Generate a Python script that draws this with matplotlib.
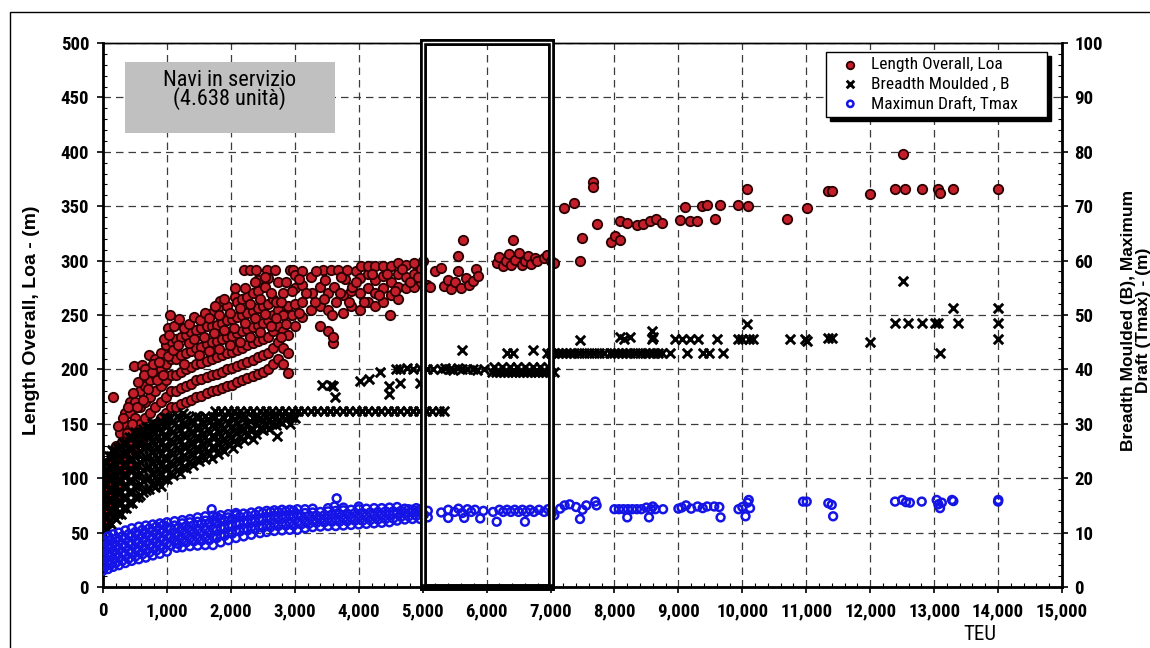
import matplotlib
matplotlib.use("Agg")
import matplotlib.pyplot as plt
from matplotlib.patches import Rectangle
from matplotlib.ticker import MultipleLocator
import numpy as np

NARROW = ["Liberation Sans Narrow", "Roboto Condensed", "Open Sans Condensed",
          "Liberation Sans", "DejaVu Sans"]
plt.rcParams["font.family"] = NARROW

# ---- data: (TEU, metres) ----
loa_cloud = [
    (0, 52), (0, 65), (0, 80), (0, 95),
    (60, 60), (60, 75), (60, 90), (60, 105),
    (120, 70), (120, 85), (120, 100), (120, 115), (160, 175),
    (200, 85), (200, 100), (200, 115), (200, 130),
    (270, 95), (270, 110), (270, 125), (270, 142),
    (340, 105), (340, 120), (340, 135), (340, 150), (340, 160),
    (420, 115), (420, 130), (420, 145), (420, 160), (420, 170),
    (500, 125), (500, 140), (500, 155), (500, 170), (490, 203),
    (580, 135), (580, 150), (580, 165), (580, 180), (610, 204),
    (660, 140), (660, 155), (660, 170), (660, 185), (660, 200),
    (740, 145), (740, 160), (740, 175), (740, 190), (720, 213),
    (820, 150), (820, 165), (820, 180), (820, 195), (820, 210),
    (900, 155), (900, 170), (900, 185), (900, 200), (900, 215),
    (980, 160), (980, 175), (980, 190), (980, 205), (980, 222), (1021, 238), (1048, 250),
    (1060, 165), (1060, 180), (1060, 195), (1060, 210), (1080, 225),
    (1140, 165), (1140, 180), (1140, 195), (1140, 210), (1140, 228),
    (1220, 168), (1220, 183), (1220, 198), (1220, 213), (1220, 230),
    (1300, 170), (1300, 185), (1300, 200), (1300, 215), (1300, 232),
    (1380, 172), (1380, 187), (1380, 202), (1380, 217), (1380, 234),
    (1460, 175), (1460, 190), (1460, 205), (1460, 220), (1460, 236),
    (1540, 176), (1540, 191), (1540, 206), (1540, 221), (1540, 238),
    (1620, 178), (1620, 193), (1620, 208), (1620, 223), (1620, 240),
    (1700, 180), (1700, 195), (1700, 210), (1700, 225), (1700, 240), (1700, 252),
    (1780, 181), (1780, 196), (1780, 211), (1780, 226), (1780, 241), (1800, 256),
    (1860, 183), (1860, 198), (1860, 213), (1860, 228), (1860, 243), (1830, 263),
    (1940, 185), (1940, 200), (1940, 215), (1940, 230), (1940, 245), (1940, 258),
    (2020, 186), (2020, 201), (2020, 216), (2020, 231), (2020, 246), (2065, 267),
    (2100, 188), (2100, 203), (2100, 218), (2100, 233), (2100, 248), (2100, 262),
    (2180, 190), (2180, 205), (2180, 220), (2180, 235), (2180, 250), (2180, 265), (2200, 291),
    (2260, 192), (2260, 207), (2260, 222), (2260, 237), (2260, 252), (2260, 267), (2300, 291),
    (2340, 194), (2340, 209), (2340, 224), (2340, 239), (2340, 254), (2340, 270), (2400, 291),
    (2420, 196), (2420, 211), (2420, 226), (2420, 241), (2420, 256), (2420, 272), (2420, 282),
    (2500, 198), (2500, 213), (2500, 228), (2500, 243), (2500, 258), (2530, 276), (2560, 291),
    (2580, 200), (2580, 215), (2580, 230), (2580, 245), (2580, 260), (2580, 284),
    (2660, 205), (2660, 220), (2660, 235), (2660, 250), (2660, 265), (2690, 291),
    (2740, 210), (2740, 225), (2740, 240), (2740, 255), (2740, 280),
    (2820, 205), (2820, 220), (2820, 235), (2820, 250), (2820, 270),
    (2900, 197), (2900, 215), (2900, 232), (2900, 258), (2930, 291), (2970, 291),
    (3000, 240), (3000, 260), (3000, 275), (3000, 287),
    (3120, 248), (3120, 262), (3120, 278), (3120, 290),
    (3264, 270), (3250, 255), (3250, 285),
    (3400, 240), (3400, 258), (3440, 291), (3400, 276),
    (3520, 235), (3520, 255), (3520, 270), (3560, 291),
    (3600, 224), (3600, 230), (3620, 276), (3680, 291), (3650, 262),
    (3760, 252), (3760, 268), (3780, 283), (3820, 291),
    (3880, 258), (3880, 272), (3900, 276), (3950, 290),
    (4020, 255), (4020, 270), (4020, 284), (4040, 295),
    (4140, 262), (4140, 275), (4140, 288), (4140, 295),
    (4260, 258), (4260, 270), (4260, 282), (4260, 295),
    (4380, 262), (4380, 275), (4380, 286), (4380, 295),
    (4495, 250), (4500, 268), (4500, 280), (4500, 295),
    (4620, 265), (4620, 276), (4620, 288), (4620, 298),
    (4740, 275), (4740, 285), (4740, 296),
    (4860, 276), (4860, 288), (4860, 298),
    (4980, 280), (4980, 292), (5000, 300),
]

loa_fill = [
    (30, 72), (90, 95), (150, 110), (180, 128), (230, 122), (240, 148), (300, 133),
    (310, 155), (380, 142), (390, 165), (460, 150), (470, 178), (530, 165), (550, 188),
    (620, 172), (640, 195), (700, 182), (760, 198), (780, 205), (850, 190), (870, 207),
    (940, 195), (950, 228), (1010, 212), (1030, 232), (1100, 218), (1110, 240),
    (1180, 222), (1190, 246), (1260, 238), (1270, 205), (1340, 224), (1350, 242),
    (1420, 228), (1430, 248), (1500, 213), (1510, 245), (1580, 230), (1590, 252),
    (1660, 217), (1660, 247), (1740, 233), (1750, 258), (1820, 219), (1820, 250),
    (1900, 236), (1900, 265), (1980, 222), (1980, 252), (2050, 238), (2060, 275),
    (2140, 225), (2140, 256), (2220, 243), (2220, 275), (2300, 230), (2300, 260),
    (2380, 247), (2380, 280), (2460, 234), (2460, 265), (2540, 251), (2540, 285),
    (2620, 240), (2620, 270), (2700, 247), (2700, 262), (2780, 230), (2780, 262),
    (2860, 242), (2860, 280), (2950, 250), (2960, 272), (3060, 252), (3060, 283),
    (3180, 270), (3320, 262), (3330, 290), (3460, 265), (3480, 282), (3580, 250),
    (3700, 270), (3720, 285), (3840, 262), (3960, 280), (4080, 262), (4200, 288),
    (4320, 268), (4440, 288), (4560, 272), (4680, 292), (4800, 280), (4920, 285),
]

loa_large = [
    (5060, 278), (5115, 276), (5200, 290), (5286, 293), (5330, 277), (5400, 282),
    (5450, 274), (5500, 280), (5553, 304), (5560, 290), (5600, 275), (5636, 319),
    (5680, 284), (5730, 278), (5780, 281), (5830, 292), (5860, 286),
    (6158, 298), (6200, 303), (6250, 295), (6300, 300), (6350, 306), (6380, 296),
    (6418, 319), (6450, 301), (6500, 307), (6550, 296), (6600, 300), (6650, 304),
    (6700, 297), (6750, 302), (6784, 300), (6900, 302), (6950, 305), (7000, 300), (7050, 298),
    (7216, 348), (7368, 353), (7461, 300), (7498, 321), (7660, 372), (7660, 368),
    (7732, 334), (7941, 317), (8010, 323), (8087, 319), (8087, 336), (8200, 335),
    (8350, 333), (8450, 334), (8550, 336), (8650, 338), (8740, 335),
    (9025, 337), (9104, 349), (9180, 336), (9287, 336), (9365, 350), (9450, 351),
    (9573, 338), (9651, 351), (9938, 351), (10094, 350), (10068, 366),
    (10694, 338), (11007, 348), (11345, 364), (11398, 364), (11998, 361), (12389, 366),
    (12509, 398), (12545, 366), (12806, 366), (13066, 366), (13092, 362), (13300, 366),
    (14004, 366),
]

beam_cloud = [
    (0, 10), (0, 12), (0, 14), (0, 16), (0, 18), (0, 20), (0, 22),
    (60, 10.5), (60, 13), (60, 15), (60, 17), (60, 19), (60, 21), (60, 23), (136, 25.2),
    (120, 11.5), (120, 14), (120, 16), (120, 18), (120, 20), (120, 22), (120, 24),
    (200, 12.5), (200, 14.5), (200, 16.5), (200, 18.5), (200, 20.5), (200, 22.5), (200, 25),
    (280, 13.5), (280, 15.5), (280, 17.5), (280, 19.5), (280, 21.5), (280, 23.5), (280, 26),
    (360, 14.5), (360, 16.5), (360, 18.5), (360, 20.5), (360, 22.5), (360, 24.5), (360, 26.5),
    (450, 15.5), (450, 17.5), (450, 19.5), (450, 21.5), (450, 23.5), (450, 25.5), (450, 27.5),
    (540, 16.5), (540, 18.5), (540, 20.5), (540, 22.5), (540, 24.5), (540, 26.5), (540, 28),
    (630, 17.5), (630, 19.5), (630, 21.5), (630, 23.5), (630, 25.5), (630, 27.5), (630, 29),
    (720, 18), (720, 20), (720, 22), (720, 24), (720, 26), (720, 28), (720, 29.5),
    (810, 18.3), (810, 20.3), (810, 22.3), (810, 24.3), (810, 26.3), (810, 28.3), (810, 30),
    (900, 18.5), (900, 20.5), (900, 22.5), (900, 24.5), (900, 26.5), (900, 28.5), (900, 30.5),
    (1000, 19.8), (1000, 21.8), (1000, 23.8), (1000, 25.8), (1000, 27.8), (1000, 29.8), (1000, 31),
    (1100, 20.5), (1100, 22.5), (1100, 24.5), (1100, 26.5), (1100, 28.5), (1100, 30.5),
    (1200, 21), (1200, 23), (1200, 25), (1200, 27), (1200, 29), (1200, 31),
    (1300, 21.8), (1300, 23.8), (1300, 25.8), (1300, 27.8), (1300, 29.8), (1300, 31.5),
    (1400, 22.5), (1400, 24.5), (1400, 26.5), (1400, 28.5), (1400, 30.5),
    (1500, 23.2), (1500, 25.2), (1500, 27.2), (1500, 29.2), (1500, 31.2),
    (1600, 23.6), (1600, 25.6), (1600, 27.6), (1600, 29.6), (1600, 31.5),
    (1700, 23.8), (1700, 25.8), (1700, 27.8), (1700, 29.8), (1700, 31.2),
    (1800, 24.5), (1800, 26.5), (1800, 28.5), (1800, 30.5),
    (1900, 25), (1900, 27), (1900, 29), (1900, 31),
    (2035, 25.6), (2000, 27.5), (2000, 29.5), (2000, 31.2),
    (2100, 26.5), (2100, 28.3), (2100, 30.2),
    (2200, 27), (2200, 29), (2200, 31),
    (2350, 27.2), (2300, 28.8), (2300, 30.5),
    (2400, 28.2), (2400, 30), (2400, 31.3),
    (2500, 28.8), (2500, 30.5), (2600, 29), (2600, 30.8),
    (2716, 27.8), (2700, 29.8), (2700, 31.3),
    (2800, 30.2), (2800, 31.4), (2925, 30), (2900, 31.3), (3000, 31),
]

beam_fill = [
    (30, 11), (30, 13), (30, 15), (30, 17), (30, 19), (30, 21), (30, 23),
    (90, 12), (90, 14), (90, 16), (90, 18), (90, 20), (90, 22), (90, 24),
    (160, 13), (160, 15), (160, 17), (160, 19), (160, 21), (160, 23), (160, 25),
    (240, 13.5), (240, 15.5), (240, 17.5), (240, 19.5), (240, 21.5), (240, 23.5), (240, 25.5),
    (320, 14.5), (320, 16.5), (320, 18.5), (320, 20.5), (320, 22.5), (320, 24.5), (320, 26.5),
    (400, 15.5), (400, 17.5), (400, 19.5), (400, 21.5), (400, 23.5), (400, 25.5), (400, 27.5),
    (495, 16.5), (495, 18.5), (495, 20.5), (495, 22.5), (495, 24.5), (495, 26.5), (495, 28.5),
    (585, 17), (585, 19), (585, 21), (585, 23), (585, 25), (585, 27), (585, 28.5),
    (675, 17.8), (675, 19.8), (675, 21.8), (675, 23.8), (675, 25.8), (675, 27.8), (675, 29.5),
    (765, 19), (765, 21), (765, 23), (765, 25), (765, 27), (765, 29), (765, 30.2),
    (855, 19.5), (855, 21.5), (855, 23.5), (855, 25.5), (855, 27.5), (855, 29.5),
    (950, 19.8), (950, 21.8), (950, 23.8), (950, 25.8), (950, 27.8), (950, 29.8), (950, 31.2),
    (1050, 21), (1050, 23), (1050, 25), (1050, 27), (1050, 29), (1050, 31),
    (1150, 21.5), (1150, 23.5), (1150, 25.5), (1150, 27.5), (1150, 29.5), (1150, 31.5),
    (1250, 22), (1250, 24), (1250, 26), (1250, 28), (1250, 30), (1250, 32),
    (1350, 23), (1350, 25), (1350, 27), (1350, 29), (1350, 31),
    (1450, 23.5), (1450, 25.5), (1450, 27.5), (1450, 29.5), (1450, 31.5),
    (1550, 24.2), (1550, 26.2), (1550, 28.2), (1550, 30.2),
    (1650, 24.8), (1650, 26.8), (1650, 28.8), (1650, 30.8),
    (1750, 25.5), (1750, 27.5), (1750, 29.5), (1750, 31.3),
    (1850, 25.8), (1850, 27.8), (1850, 29.8),
    (1950, 26.2), (1950, 28.2), (1950, 30.2),
    (2050, 26.8), (2050, 28.8), (2050, 30.8),
    (2150, 27.5), (2150, 29.5), (2150, 31.4),
    (2250, 28), (2250, 30), (2350, 29), (2350, 31), (2450, 29.2), (2450, 31),
    (2550, 29.8), (2550, 31.5), (2650, 30), (2650, 31.4),
    (2750, 30.5), (2850, 30.8), (2950, 31.3),
]

# Panamax row (32.3 m)
panamax_teu = [1750, 1850, 1950, 2050, 2150, 2250, 2350, 2450, 2550, 2650, 2750, 2850,
               2950, 3050, 3150, 3250, 3350, 3450, 3550, 3650, 3750, 3850, 3950, 4050,
               4150, 4250, 4350, 4450, 4550, 4650, 4750, 4850, 4950, 5050, 5150, 5250, 5338]
panamax_beam = 32.3

beam_large = [
    (3420, 37.1), (3560, 37.1), (3630, 35), (3600, 37), (4020, 37.9), (4160, 38.2),
    (4330, 39.6), (4480, 37), (4480, 35.5), (4590, 40), (4645, 37.5), (4645, 40),
    (4750, 40.2), (4850, 40), (4960, 37.5), (4960, 40.2), (5060, 40), (5160, 40), (5610, 43.6),
    (5286, 40), (5350, 40.2), (5420, 40), (5480, 39.8), (5550, 40.2), (5620, 40), (5700, 40),
    (5780, 40.1), (5850, 39.9), (5960, 40),
    (6090, 39.6), (6150, 39.6), (6210, 39.6), (6270, 39.6), (6330, 39.6), (6390, 39.6),
    (6450, 39.6), (6510, 39.6), (6570, 39.6), (6630, 39.6), (6690, 39.6), (6750, 39.6),
    (6810, 39.6), (6870, 39.6), (6930, 39.6), (6990, 39.6), (7050, 39.6),
    (6120, 40.4), (6240, 40.4), (6360, 40.4), (6480, 40.4), (6600, 40.4), (6720, 40.4),
    (6840, 40.4), (6960, 40.4),
    (6315, 43), (6418, 43), (6731, 43.6),
    (6940, 43), (7000, 43), (7060, 43), (7120, 43), (7180, 43), (7240, 43), (7300, 43),
    (7370, 43), (7440, 43), (7520, 43), (7600, 43), (7680, 43), (7760, 43), (7840, 43),
    (7930, 43), (7461, 45.4),
    (7993, 43), (8060, 43), (8120, 43), (8180, 43), (8250, 43), (8320, 43), (8400, 43),
    (8470, 43), (8540, 43), (8610, 43), (8680, 43), (8750, 43), (8870, 43),
    (8087, 46), (8150, 45.5), (8243, 46), (8583, 47), (8583, 45.5), (8600, 46),
    (8940, 45.5), (9050, 45.5), (9131, 43), (9180, 45.5), (9300, 45.5), (9391, 43),
    (9480, 43), (9599, 45.5), (9703, 43),
    (9938, 45.5), (10000, 45.5), (10068, 48.3), (10100, 45.5), (10172, 45.5),
    (10746, 45.5), (11007, 45.3), (10980, 45.6), (11345, 45.8), (11398, 45.8), (11998, 45),
    (12389, 48.5), (12509, 56.3), (12597, 48.5), (12806, 48.5), (13066, 48.5), (13020, 48.5),
    (13092, 43), (13300, 51.2), (13379, 48.5), (14004, 51.2), (14004, 48.5), (14004, 45.5),
]

draft_cloud = [
    (0, 3), (0, 4.5), (0, 6), (0, 7.5), (0, 8.7),
    (80, 3.3), (80, 4.8), (80, 6.3), (80, 7.8), (80, 9.3),
    (160, 3.7), (160, 5.2), (160, 6.7), (160, 8.2), (160, 9.7),
    (250, 4), (250, 5.5), (250, 7), (250, 8.5), (250, 10),
    (350, 4.4), (350, 5.9), (350, 7.4), (350, 8.9), (350, 10.4),
    (450, 4.8), (450, 6.3), (450, 7.8), (450, 9.3), (450, 10.8),
    (560, 5.1), (560, 6.6), (560, 8.1), (560, 9.6), (560, 11.1),
    (670, 5.4), (670, 6.9), (670, 8.4), (670, 9.9), (670, 11.3),
    (780, 5.8), (780, 7.3), (780, 8.8), (780, 10.3), (780, 11.5),
    (890, 6.1), (890, 7.6), (890, 9.1), (890, 10.6), (890, 11.7),
    (1000, 6.5), (1000, 8), (1000, 9.5), (1000, 11), (1000, 11.9),
    (1152, 7.2), (1120, 8.4), (1120, 9.9), (1120, 11.3), (1120, 12.1),
    (1240, 7.3), (1240, 8.8), (1240, 10.3), (1240, 11.7), (1240, 12.3),
    (1360, 7.5), (1360, 9), (1360, 10.5), (1360, 11.9), (1360, 12.5),
    (1480, 7.6), (1480, 9.1), (1480, 10.6), (1480, 12), (1480, 12.8),
    (1600, 7.7), (1600, 9.2), (1600, 10.7), (1600, 12.2), (1600, 13),
    (1700, 14.3), (1720, 7.7), (1720, 9.3), (1720, 10.8), (1720, 12.3), (1720, 13.1),
    (1840, 8.2), (1840, 9.6), (1840, 11), (1840, 12.5), (1840, 13.2),
    (1960, 8.6), (1960, 10), (1960, 11.4), (1960, 12.8), (1960, 13.4),
    (2080, 9), (2080, 10.4), (2080, 11.8), (2080, 13.2), (2080, 13.6),
    (2200, 9.3), (2200, 10.7), (2200, 12.1), (2200, 13.5),
    (2320, 9.6), (2320, 11), (2320, 12.4), (2320, 13.7),
    (2456, 9.9), (2440, 11.2), (2440, 12.6), (2440, 13.9),
    (2560, 10.1), (2560, 11.5), (2560, 12.9), (2560, 14),
    (2680, 10.3), (2680, 11.7), (2680, 13.1), (2680, 14.1),
    (2800, 10.4), (2800, 11.8), (2800, 13.2), (2800, 14.2),
    (2920, 10.5), (2920, 11.9), (2920, 13.3), (2920, 14.2),
    (3040, 10.5), (3040, 12), (3040, 13.4), (3040, 14.3),
    (3160, 10.8), (3160, 12.2), (3160, 13.6), (3160, 14.3),
    (3280, 11), (3280, 12.3), (3280, 13.7), (3280, 14.4),
    (3400, 11.1), (3400, 12.5), (3400, 13.8),
    (3520, 11.2), (3520, 12.6), (3520, 13.9), (3520, 14.5),
    (3620, 14.8), (3655, 16.3), (3640, 11.2), (3640, 12.6), (3640, 14),
    (3760, 11.3), (3760, 12.7), (3760, 14.1), (3760, 14.6),
    (3880, 11.4), (3880, 12.8), (3880, 14.2),
    (4000, 11.5), (4000, 12.9), (4000, 14.3), (4000, 14.8),
    (4120, 11.6), (4120, 13), (4120, 14.4),
    (4240, 11.7), (4240, 13.1), (4240, 14.5),
    (4360, 11.8), (4360, 13.2), (4360, 14.5),
    (4480, 11.9), (4480, 13.3), (4480, 14.6),
    (4600, 12.2), (4600, 13.5), (4600, 14.7),
    (4720, 12.4), (4720, 13.6), (4720, 14.4),
    (4840, 12.5), (4840, 13.7), (4840, 14.2),
    (4960, 12.5), (4960, 13.8), (4960, 14.3),
    (5080, 12.8), (5080, 14),
]

draft_fill = [
    (40, 3.8), (40, 5.3), (40, 6.8), (40, 8.3), (120, 4.1), (120, 5.6), (120, 7.1), (120, 8.6),
    (200, 4.4), (200, 5.9), (200, 7.4), (200, 8.9), (300, 4.8), (300, 6.3), (300, 7.8), (300, 9.3),
    (400, 5.2), (400, 6.7), (400, 8.2), (400, 9.7), (505, 5.6), (505, 7.1), (505, 8.6), (505, 10.1),
    (615, 6), (615, 7.5), (615, 9), (615, 10.5), (725, 6.3), (725, 7.8), (725, 9.3), (725, 10.8),
    (835, 6.7), (835, 8.2), (835, 9.7), (835, 11.1), (945, 7.1), (945, 8.6), (945, 10.1), (945, 11.4),
    (1060, 7.6), (1060, 9.1), (1060, 10.6), (1180, 7.9), (1180, 9.4), (1180, 10.9),
    (1300, 8.2), (1300, 9.7), (1300, 11.2), (1420, 8.4), (1420, 9.9), (1420, 11.4),
    (1540, 8.5), (1540, 10), (1540, 11.6), (1660, 8.6), (1660, 10.1), (1660, 11.6),
    (1780, 9), (1780, 10.4), (1780, 11.8), (1780, 12.9), (1900, 9.4), (1900, 10.8), (1900, 12.2),
    (2020, 9.8), (2020, 11.2), (2020, 12.6), (2140, 10.2), (2140, 11.6), (2140, 12.9),
    (2260, 10.4), (2260, 11.8), (2260, 13.1), (2380, 10.6), (2380, 12), (2380, 13.3),
    (2500, 10.9), (2500, 12.3), (2500, 13.6), (2620, 11), (2620, 12.4), (2620, 13.8),
    (2740, 11.2), (2740, 12.6), (2740, 13.8), (2860, 11.3), (2860, 12.7), (2860, 13.9),
    (2980, 11.3), (2980, 12.8), (2980, 14), (3100, 11.5), (3100, 12.9), (3220, 11.6), (3220, 13),
    (3340, 11.8), (3340, 13.1), (3460, 11.9), (3460, 13.2), (3580, 12), (3580, 13.3),
    (3700, 12), (3700, 13.4), (3820, 12.1), (3820, 13.5), (3940, 12.2), (3940, 13.6),
    (4060, 12.2), (4060, 13.6), (4180, 12.3), (4180, 13.7), (4300, 12.4), (4300, 13.8),
    (4420, 12.5), (4420, 13.9), (4540, 12.6), (4540, 13.9), (4660, 12.9), (4660, 14),
    (4780, 13), (4780, 14.3), (4900, 13.1), (4900, 14.5), (5020, 13.3),
]

draft_large = [
    (5290, 13.7), (5400, 14.2), (5400, 12.7), (5500, 13.8), (5560, 14.4), (5620, 13.6),
    (5650, 12.7), (5700, 14.3), (5760, 13.8), (5820, 14.2), (5900, 12.6), (5950, 14),
    (6100, 13.8), (6158, 12), (6200, 14.2), (6260, 13.8), (6320, 14.2), (6380, 13.8),
    (6440, 14.2), (6500, 13.8), (6560, 14.2), (6600, 12), (6620, 13.8), (6680, 14.2),
    (6740, 13.8), (6820, 14.2), (6900, 13.8), (6960, 14.3), (7020, 13.6), (7060, 13.2),
    (7150, 14.4), (7220, 15), (7300, 15.2), (7400, 14.7), (7461, 12.5), (7500, 14.2),
    (7560, 15), (7700, 15.7), (7720, 15),
    (8000, 14.3), (8070, 14.3), (8140, 14.3), (8200, 12.8), (8210, 14.3), (8280, 14.3),
    (8350, 14.3), (8420, 14.3), (8500, 14.6), (8540, 12.8), (8570, 14.3), (8600, 14.8),
    (8640, 14.3), (8760, 14.3),
    (9000, 14.4), (9050, 14.6), (9120, 15), (9200, 14.4), (9300, 14.8), (9380, 14.5),
    (9450, 14.8), (9560, 14.8), (9640, 14.7), (9660, 12.8),
    (9940, 14.3), (10000, 14.7), (10050, 13), (10080, 15.5), (10100, 16), (10120, 14.5),
    (10950, 15.7), (11007, 15.7), (11345, 15.4), (11398, 15.1), (11420, 13),
    (12389, 15.7), (12500, 16), (12560, 15.6), (12620, 15.5), (12806, 15.7), (13040, 16),
    (13066, 15.2), (13092, 14.5), (13120, 15.5), (13280, 16), (13300, 15.8),
    (14000, 15.7), (14004, 16),
]

labels = ["Length Overall, Loa", "Breadth Moulded , B", "Maximun Draft, Tmax"]
x_ticks = list(range(0, 15001, 1000))
loa_ticks = list(range(0, 501, 50))
right_ticks = list(range(0, 101, 10))

loa = np.array(loa_cloud + loa_fill + loa_large)
beam = np.array(beam_cloud + beam_fill + [(t, panamax_beam) for t in panamax_teu] + beam_large)
draft = np.array(draft_cloud + draft_fill + draft_large)

# ---- figure ----
fig = plt.figure(figsize=(11.5, 6.48), dpi=100)
ax = fig.add_axes([103 / 1150, 61 / 648, 959 / 1150, 544 / 648])
ax2 = ax.twinx()

ax.set_xlim(0, 15000)
ax.set_ylim(0, 500)
ax2.set_ylim(0, 100)

tick_font = dict(fontweight="bold", fontsize=13.5)
ax.set_xticks(x_ticks, [f"{v:,}" for v in x_ticks], **tick_font)
ax.set_yticks(loa_ticks, [str(v) for v in loa_ticks], **tick_font)
ax2.set_yticks(right_ticks, [str(v) for v in right_ticks], **tick_font)
ax.xaxis.set_minor_locator(MultipleLocator(200))
ax.yaxis.set_minor_locator(MultipleLocator(10))
ax2.yaxis.set_minor_locator(MultipleLocator(2))
ax.tick_params(which="major", direction="out", length=4, width=1.2, pad=6)
ax.tick_params(which="minor", direction="in", length=3, width=0.8)
ax.tick_params(axis="x", pad=7)
ax2.tick_params(which="major", direction="out", length=4, width=1.2, pad=5)
ax2.tick_params(which="minor", direction="in", length=3, width=0.8)

for sp in ("left", "bottom"):
    ax.spines[sp].set_linewidth(2)
ax2.spines["right"].set_linewidth(2)
ax.spines["top"].set_linewidth(1)
ax2.spines["top"].set_linewidth(1)

ax.grid(True, which="major", color="#3c3c3c", linestyle=(0, (6, 4)), linewidth=0.9)

sc_loa = ax.scatter(loa[:, 0], loa[:, 1], s=46, c="#c41e2a", edgecolors="#2a0000",
                    linewidths=1.3, zorder=3)
sc_b = ax2.scatter(beam[:, 0], beam[:, 1], s=46, marker="x", c="black",
                   linewidths=2.1, zorder=3)
sc_t = ax2.scatter(draft[:, 0], draft[:, 1], s=32, facecolors="none",
                   edgecolors="#1414e6", linewidths=1.8, zorder=4)

# info box
ax.add_patch(Rectangle((344, 417), 3285, 65.5, facecolor="#c0c0c0",
                       edgecolor="none", zorder=4))
ax.text(1979, 457, "Navi in servizio\n(4.638 unità)", ha="center", va="center",
        fontsize=16, linespacing=0.75, zorder=5)

# highlight 5,000-7,000 TEU
ax2.add_patch(Rectangle((5000, 0), 2000, 100.24, fill=False, edgecolor="black",
                        linewidth=5.0, clip_on=False, zorder=6))
ax2.plot([5000, 5000, 7000, 7000], [0.8, 100.24, 100.24, 0.8], color="white",
         linewidth=1.0, clip_on=False, zorder=7)

leg = ax2.legend([sc_loa, sc_b, sc_t], labels, loc="upper left",
                 bbox_to_anchor=(723 / 959, 535 / 544, 221 / 959, 0), mode="expand",
                 borderaxespad=0, fontsize=12.5, scatterpoints=1, handletextpad=0.1,
                 labelspacing=0.25, borderpad=0.3, handlelength=2.2, fancybox=False,
                 edgecolor="black", markerscale=0.8,
                 shadow={"ox": 3, "oy": -3, "facecolor": "black",
                         "edgecolor": "black", "alpha": 1})
leg.get_frame().set_linewidth(1.0)
leg.set_zorder(10)

fig.text(32 / 1150, 1 - 320 / 648, "Length Overall, Loa - (m)", rotation=90,
         ha="center", va="center", fontsize=14, fontweight="bold",
         family=["Liberation Sans", "DejaVu Sans"])
fig.text(1136 / 1150, 1 - 320 / 648, "Breadth Moulded (B), Maximum\nDraft (Tmax) - (m)",
         rotation=90, ha="center", va="center", fontsize=12.5, fontweight="bold",
         multialignment="center", linespacing=1.0,
         family=["Liberation Sans", "DejaVu Sans"])
fig.text(980 / 1150, 1 - 635 / 648, "TEU", ha="center", va="center", fontsize=15)

fig.add_artist(Rectangle((10 / 1150, -0.05), 1.2, 1 - 12 / 648 + 0.05, fill=False,
                         edgecolor="black", linewidth=1.0, transform=fig.transFigure,
                         clip_on=False))

fig.savefig("out.png", dpi=100)
